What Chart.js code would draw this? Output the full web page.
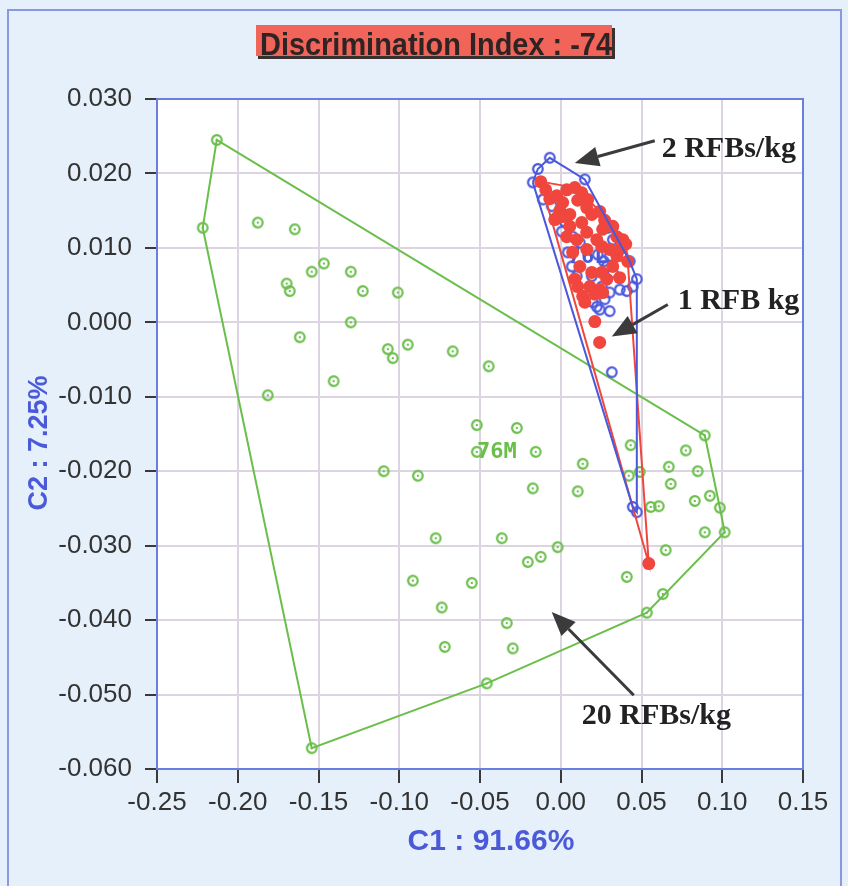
<!DOCTYPE html>
<html>
<head>
<meta charset="utf-8">
<title>Discrimination Index</title>
<script src="https://cdn.jsdelivr.net/npm/chart.js@4.4.1/dist/chart.umd.min.js"></script>
<style>
  html, body { margin: 0; padding: 0; background: #e6f0fa; }
  canvas { display: block; }
</style>
</head>
<body>
<canvas id="my-chart" width="848" height="886"></canvas>
<script>
//  Axis ticks

const xTicks = [-0.25, -0.20, -0.15, -0.10, -0.05, 0.00, 0.05, 0.10, 0.15]
const xTickLabels = ['-0.25', '-0.20', '-0.15', '-0.10', '-0.05', '0.00', '0.05', '0.10', '0.15']
const yTicks = [-0.06, -0.05, -0.04, -0.03, -0.02, -0.01, 0.00, 0.01, 0.02, 0.03]
const yTickLabels = ['-0.060', '-0.050', '-0.040', '-0.030', '-0.020', '-0.010', '0.000', '0.010', '0.020', '0.030']

const titleText = 'Discrimination Index : -74'
const xTitle = 'C1 : 91.66%'
const yTitle = 'C2 : 7.25%'

//  Scores (C1, C2) per group

const greenX = [
    -0.2130, -0.2217, -0.1876, -0.1647, -0.1542, -0.1467, -0.1300, -0.1697, -0.1678, -0.1226,
    -0.1009, -0.1300, -0.1616, -0.1071, -0.1040, -0.0947, -0.0669, -0.0446, -0.1406, -0.1814,
    -0.0520, -0.0272, -0.0520, -0.0155, -0.1096, -0.0885, 0.0136, 0.0433, -0.0173, 0.0105,
    0.0421, 0.0489, 0.0774, 0.0669, 0.0848, 0.0681, 0.0892, 0.0830, 0.0923, 0.0985,
    0.1015, 0.0892, 0.0557, 0.0607, -0.0774, -0.0365, -0.0019, -0.0124, -0.0204, 0.0650,
    0.0409, -0.0916, -0.0551, -0.0737, -0.0718, 0.0632, 0.0533, -0.0334, -0.0297, -0.0458, -0.1542
]
const greenY = [
    0.0245, 0.0127, 0.0134, 0.0125, 0.0068, 0.0079, 0.0068, 0.0052, 0.0042, 0.0042,
    0.0040, 0.0000, -0.0020, -0.0036, -0.0048, -0.0030, -0.0039, -0.0059, -0.0079, -0.0098,
    -0.0138, -0.0142, -0.0174, -0.0174, -0.0200, -0.0206, -0.0190, -0.0165, -0.0223, -0.0227,
    -0.0206, -0.0201, -0.0172, -0.0194, -0.0200, -0.0217, -0.0152, -0.0240, -0.0233, -0.0249,
    -0.0282, -0.0282, -0.0248, -0.0247, -0.0290, -0.0290, -0.0302, -0.0315, -0.0322, -0.0306,
    -0.0342, -0.0347, -0.0350, -0.0383, -0.0436, -0.0365, -0.0390, -0.0404, -0.0438, -0.0485, -0.0572
]

const redX = [
    -0.0124, -0.0093, -0.0068, -0.0025, 0.0012, 0.0037, 0.0087, 0.0130, 0.0105, 0.0167,
    -0.0006, -0.0037, 0.0056, 0.0161, 0.0192, 0.0241, 0.0272, 0.0130, 0.0056, 0.0012,
    0.0161, 0.0260, 0.0322, 0.0347, 0.0384, 0.0223, 0.0099, 0.0037, 0.0074, 0.0161,
    0.0254, 0.0303, 0.0347, 0.0365, 0.0118, 0.0192, 0.0254, 0.0087, 0.0105, 0.0180,
    0.0241, 0.0285, 0.0365, 0.0322, 0.0136, 0.0211, 0.0260, 0.0149, 0.0211, 0.0241,
    0.0545, 0.0415, 0.0402
]
const redY = [
    0.0189, 0.0178, 0.0166, 0.0170, 0.0161, 0.0178, 0.0181, 0.0174, 0.0164, 0.0165,
    0.0150, 0.0138, 0.0145, 0.0154, 0.0145, 0.0149, 0.0137, 0.0134, 0.0129, 0.0142,
    0.0121, 0.0125, 0.0129, 0.0115, 0.0111, 0.0111, 0.0111, 0.0115, 0.0094, 0.0098,
    0.0102, 0.0098, 0.0089, 0.0098, 0.0075, 0.0067, 0.0067, 0.0058, 0.0048, 0.0048,
    0.0044, 0.0058, 0.0060, 0.0075, 0.0035, 0.0038, 0.0040, 0.0027, 0.0001, -0.0027,
    -0.0324, 0.0082, 0.0105
]

const blueX = [
    -0.0068, -0.0142, -0.0173, 0.0149, -0.0111, -0.0056, -0.0025, 0.0025, 0.0006, 0.0074,
    0.0118, 0.0043, 0.0291, 0.0322, 0.0303, 0.0384, 0.0427, 0.0285, 0.0068, 0.0322,
    0.0192, 0.0099, 0.0471, 0.0446, 0.0409, 0.0365, 0.0303, 0.0254, 0.0272, 0.0223,
    0.0303, 0.0241, 0.0198, 0.0316, 0.0446, 0.0471, 0.0266, 0.0229
]
const blueY = [
    0.0221, 0.0206, 0.0188, 0.0192, 0.0165, 0.0156, 0.0141, 0.0135, 0.0122, 0.0115,
    0.0107, 0.0094, 0.0127, 0.0111, 0.0089, 0.0089, 0.0082, 0.0075, 0.0075, 0.0067,
    0.0062, 0.0062, 0.0058, 0.0048, 0.0042, 0.0044, 0.0040, 0.0048, 0.0031, 0.0021,
    0.0015, 0.0017, 0.0027, -0.0067, -0.0248, -0.0255, 0.0082, 0.0091
]

//  Group names written inside the plot, and the arrow notes

const classLabels = [
    { text: '76M', x: -0.0396, y: -0.0174, color: '#6abf4b' },
    { text: '76L', x: 0.0167, y: 0.0087, color: '#4a58dc' }
]

const notes = [
    { text: '2 RFBs/kg', x: 0.0625, y: 0.0232, fromX: 0.0582, fromY: 0.0244, toX: 0.0087, toY: 0.0214 },
    { text: '1 RFB kg', x: 0.0724, y: 0.0028, fromX: 0.0663, fromY: 0.0024, toX: 0.0316, toY: -0.0019 },
    { text: '20 RFBs/kg', x: 0.0130, y: -0.0529, fromX: 0.0452, fromY: -0.0501, toX: -0.0056, toY: -0.0389 }
]


//  Helpers

const green = '#6abf4b'
const blue = '#4a58dc'
const red = '#f0463e'

function toPoints(xs, ys) {
    return xs.map((x, i) => ({ x: x, y: ys[i] }))
}

// convex hull (monotone chain), closed
function hull(pts) {
    const p = pts.slice().sort((a, b) => a.x - b.x || a.y - b.y)
    const cross = (o, a, b) => (a.x - o.x) * (b.y - o.y) - (a.y - o.y) * (b.x - o.x)
    const lower = [], upper = []
    p.forEach(q => {
        while (lower.length >= 2 && cross(lower[lower.length - 2], lower[lower.length - 1], q) <= 0) lower.pop()
        lower.push(q)
    })
    for (let i = p.length - 1; i >= 0; i--) {
        const q = p[i]
        while (upper.length >= 2 && cross(upper[upper.length - 2], upper[upper.length - 1], q) <= 0) upper.pop()
        upper.push(q)
    }
    upper.pop()
    const h = lower.slice(0, -1).concat(upper)
    h.push(h[0])
    return h
}

function ring(color, dot) {
    const c = document.createElement('canvas')
    c.width = 14
    c.height = 14
    const g = c.getContext('2d')
    g.strokeStyle = color
    g.lineWidth = 2.2
    g.beginPath()
    g.arc(7, 7, 4.8, 0, Math.PI * 2)
    g.stroke()
    if (dot) {
        g.fillStyle = color
        g.fillRect(6, 6, 2, 2)
    }
    return c
}

const greenPts = toPoints(greenX, greenY)
const redPts = toPoints(redX, redY)
const bluePts = toPoints(blueX, blueY)


//  Background, frame, title box, labels, arrows

const decor = {
    id: 'decor',
    beforeDraw(chart) {
        const c = chart.ctx, a = chart.chartArea
        c.save()
        c.fillStyle = '#e6f0fa'
        c.fillRect(0, 0, chart.width, chart.height)
        c.strokeStyle = '#8a98e4'
        c.lineWidth = 2
        c.strokeRect(8, 10, 833, 900)
        c.fillStyle = '#ffffff'
        c.fillRect(a.left, a.top, a.right - a.left, a.bottom - a.top)
        c.restore()
    },
    beforeDatasetsDraw(chart) {
        const c = chart.ctx, xs = chart.scales.x, ys = chart.scales.y
        c.save()
        c.font = 'bold 22px "DejaVu Sans Mono", monospace'
        c.textAlign = 'center'
        c.textBaseline = 'middle'
        classLabels.forEach(l => {
            c.fillStyle = l.color
            c.fillText(l.text, xs.getPixelForValue(l.x), ys.getPixelForValue(l.y))
        })
        c.restore()
    },
    afterDatasetsDraw(chart) {
        const c = chart.ctx, a = chart.chartArea
        c.save()
        c.strokeStyle = '#6a7ee0'
        c.lineWidth = 2
        c.strokeRect(a.left, a.top, a.right - a.left, a.bottom - a.top)
        c.restore()
    },
    afterDraw(chart) {
        const c = chart.ctx, xs = chart.scales.x, ys = chart.scales.y
        c.save()

        // title box
        c.fillStyle = '#3a3030'
        c.fillRect(258, 28, 357, 31)
        c.fillStyle = '#f0645a'
        c.fillRect(256, 25, 356, 31)
        c.font = 'bold 32px "Liberation Sans", Arial, sans-serif'
        let w = c.measureText(titleText).width
        c.save()
        c.translate(436, 55)
        c.scale(352 / w, 1)
        c.fillStyle = '#2e2424'
        c.textAlign = 'center'
        c.textBaseline = 'alphabetic'
        c.fillText(titleText, 0, 0)
        c.restore()

        // axis titles
        c.fillStyle = '#4a5ad8'
        c.font = 'bold 30px "Liberation Sans", Arial, sans-serif'
        c.textAlign = 'center'
        c.textBaseline = 'alphabetic'
        c.fillText(xTitle, 491, 850)
        c.save()
        c.translate(47, 443)
        c.rotate(-Math.PI / 2)
        c.font = 'bold 27px "Liberation Sans", Arial, sans-serif'
        c.fillText(yTitle, 0, 0)
        c.restore()

        // notes with arrows
        notes.forEach(n => {
            const x0 = xs.getPixelForValue(n.fromX), y0 = ys.getPixelForValue(n.fromY)
            const x1 = xs.getPixelForValue(n.toX), y1 = ys.getPixelForValue(n.toY)
            const ang = Math.atan2(y1 - y0, x1 - x0)
            const len = 24, half = 10
            const bx = x1 - len * Math.cos(ang), by = y1 - len * Math.sin(ang)
            c.strokeStyle = '#3b3b3b'
            c.fillStyle = '#3b3b3b'
            c.lineWidth = 3
            c.beginPath()
            c.moveTo(x0, y0)
            c.lineTo(bx, by)
            c.stroke()
            c.beginPath()
            c.moveTo(x1, y1)
            c.lineTo(bx + half * Math.sin(ang), by - half * Math.cos(ang))
            c.lineTo(bx - half * Math.sin(ang), by + half * Math.cos(ang))
            c.closePath()
            c.fill()

            c.fillStyle = '#222222'
            c.font = 'bold 30px "Liberation Serif", "Times New Roman", serif'
            c.textAlign = 'left'
            c.textBaseline = 'middle'
            c.fillText(n.text, xs.getPixelForValue(n.x), ys.getPixelForValue(n.y))
        })
        c.restore()
    }
}


//  Chart

const tickFont = { family: '"Liberation Sans", Arial, sans-serif', size: 26 }
const gridStyle = { color: '#dcd4e0', lineWidth: 2, tickColor: '#3a3a3a', tickWidth: 2 }

const config = {
    type: 'scatter',
    data: {
        datasets: [
            { label: '2 RFBs/kg hull', data: hull(bluePts), showLine: true, borderColor: blue,
              borderWidth: 2, pointRadius: 0, tension: 0, order: 0 },
            { label: '1 RFB kg hull', data: hull(redPts), showLine: true, borderColor: red,
              borderWidth: 2, pointRadius: 0, tension: 0, order: 1 },
            { label: '1 RFB kg', data: redPts, pointRadius: 6.5, backgroundColor: red, borderWidth: 0, order: 2 },
            { label: '2 RFBs/kg', data: bluePts, pointStyle: ring(blue, false), order: 3 },
            { label: '20 RFBs/kg', data: greenPts, pointStyle: ring(green, true), order: 4 },
            { label: '20 RFBs/kg hull', data: hull(greenPts), showLine: true, borderColor: green,
              borderWidth: 2, pointRadius: 0, tension: 0, order: 5 }
        ]
    },
    options: {
        responsive: false,
        animation: false,
        events: [],
        layout: { padding: { top: 99, right: 45, bottom: 0, left: 0 } },
        plugins: {
            legend: { display: false },
            tooltip: { enabled: false },
            title: { display: false }
        },
        scales: {
            x: {
                type: 'linear',
                min: -0.25,
                max: 0.15,
                afterBuildTicks: s => { s.ticks = xTicks.map(v => ({ value: v })) },
                afterFit: s => { s.height = 117 },
                ticks: {
                    callback: (v, i) => xTickLabels[i],
                    font: tickFont,
                    color: '#333333',
                    padding: 4,
                    maxRotation: 0,
                    autoSkip: false
                },
                grid: Object.assign({ tickLength: 14 }, gridStyle),
                border: { display: false }
            },
            y: {
                type: 'linear',
                min: -0.06,
                max: 0.03,
                afterBuildTicks: s => { s.ticks = yTicks.map(v => ({ value: v })) },
                afterFit: s => { s.width = 157 },
                ticks: {
                    callback: (v, i) => yTickLabels[i],
                    font: tickFont,
                    color: '#333333',
                    padding: 13,
                    autoSkip: false
                },
                grid: Object.assign({ tickLength: 12 }, gridStyle),
                border: { display: false }
            }
        }
    },
    plugins: [decor]
}

const myChart = new Chart(document.querySelector('#my-chart').getContext('2d'), config)
</script>
</body>
</html>
